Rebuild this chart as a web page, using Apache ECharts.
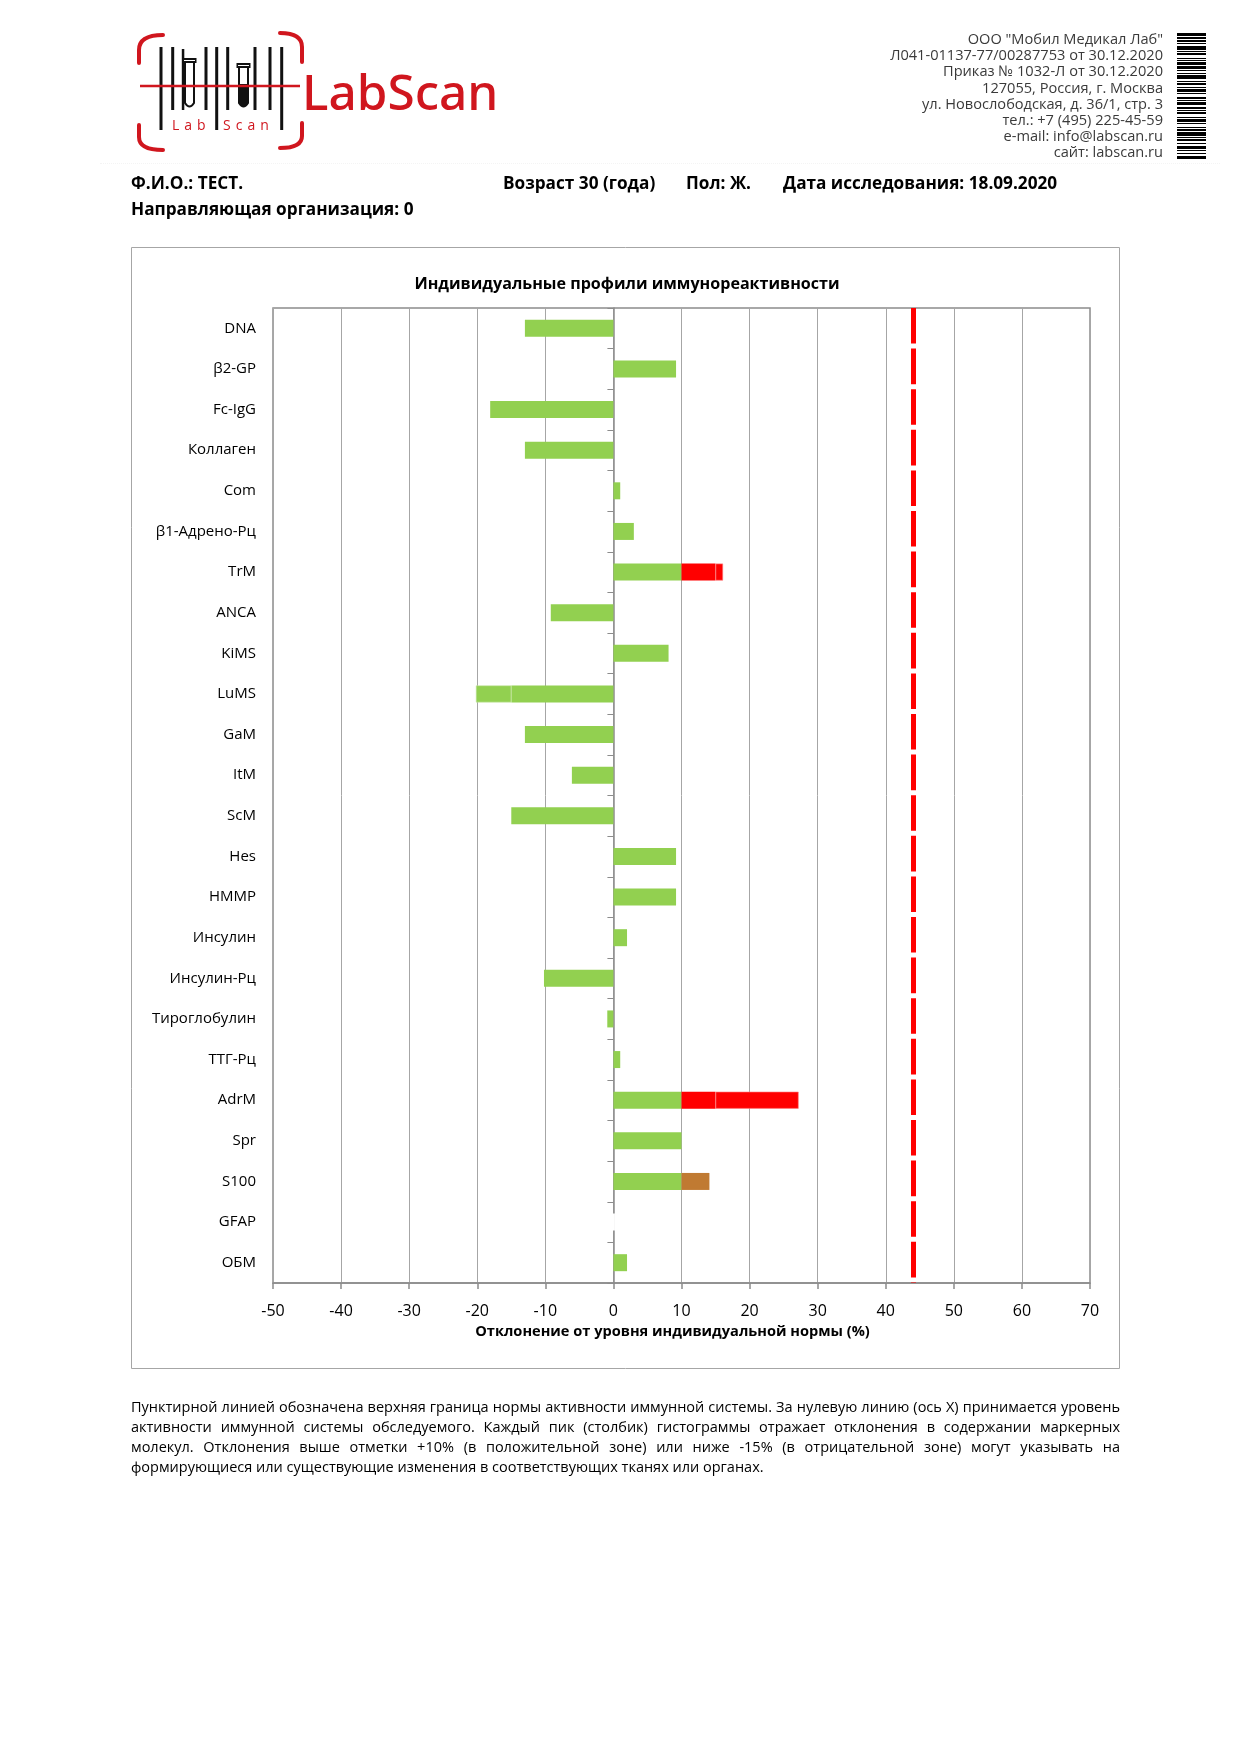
<!DOCTYPE html>
<html>
<head>
<meta charset="utf-8">
<script src="https://cdn.jsdelivr.net/npm/echarts/dist/echarts.min.js"></script>
<style>
  html, body { margin: 0; padding: 0; background: #fff; }
  body { width: 1242px; height: 1756px; position: relative; overflow: hidden; font-family: "Open Sans", "Noto Sans", sans-serif; }
  #chart { position: absolute; left: 0; top: 0; width: 1242px; height: 1756px; }
  .hdr { position: absolute; font-weight: 700; font-size: 17.2px; line-height: 20px; color: #000; white-space: nowrap; }
  #addr { position: absolute; right: 79px; top: 30px; text-align: right; font-size: 14.6px; line-height: 16.2px; color: #3a3a3a; }
  #barcode { position: absolute; left: 1177px; top: 33px; width: 29px; }
  #barcode div { width: 29px; }
  #foot { position: absolute; left: 131px; top: 1397px; width: 989px; font-size: 14.5px; line-height: 20px; color: #000; }
  #foot div { text-align: justify; }
  #foot div.j { text-align-last: justify; }
  #sep { position: absolute; left: 100px; top: 163px; width: 1120px; border-top: 1px dotted #f4f4f4; }
</style>
</head>
<body>
<div id="chart"></div>

<svg style="position:absolute;left:0;top:0" width="520" height="170" viewBox="0 0 520 170">
  <g fill="none" stroke="#D0161E" stroke-width="4" stroke-linecap="round">
    <path d="M163 35 Q139 35 139 50 L139 63"/>
    <path d="M139 125 L139 137 Q139 150 163 150"/>
    <path d="M280 33 Q302 33 302 47 L302 62"/>
    <path d="M302 123 L302 136 Q302 148 280 148"/>
  </g>
  <g fill="#111">
    <rect x="159.5" y="47" width="3" height="83"/>
    <rect x="171.2" y="47" width="3" height="63"/>
    <rect x="181.8" y="49" width="2.5" height="61"/>
    <rect x="204.5" y="47" width="3" height="63"/>
    <rect x="215.2" y="47" width="3" height="83"/>
    <rect x="226.2" y="47" width="3" height="63"/>
    <rect x="253.5" y="47" width="3" height="63"/>
    <rect x="268.5" y="47" width="3" height="63"/>
    <rect x="280.2" y="47" width="3" height="83"/>
  </g>
  <g fill="none" stroke="#111" stroke-width="2">
    <rect x="183.5" y="59" width="12" height="3" fill="#fff"/>
    <path d="M185 62 L185 103 Q189.5 110 194 103 L194 62"/>
    <rect x="237.5" y="64" width="12" height="3" fill="#fff"/>
    <path d="M239 67 L239 103 Q243.5 110 248 103 L248 67"/>
  </g>
  <path d="M239 84 L248 84 L248 103 Q243.5 110 239 103 Z" fill="#111"/>
  <line x1="140" y1="86" x2="300" y2="86" stroke="#D0161E" stroke-width="2.5"/>
  <text x="172" y="130" fill="#D0161E" font-family="Open Sans" font-size="14" letter-spacing="5">Lab</text>
  <text x="223" y="130" fill="#D0161E" font-family="Open Sans" font-size="14" letter-spacing="5">Scan</text>
  <text x="302" y="110" fill="#D0161E" font-family="Noto Sans" font-weight="500" font-size="49.5">LabScan</text>
</svg>

<div id="addr">
  <div>ООО "Мобил Медикал Лаб"</div>
  <div>Л041-01137-77/00287753 от 30.12.2020</div>
  <div>Приказ № 1032-Л от 30.12.2020</div>
  <div>127055, Россия, г. Москва</div>
  <div>ул. Новослободская, д. 36/1, стр. 3</div>
  <div>тел.: +7 (495) 225-45-59</div>
  <div>e-mail: info@labscan.ru</div>
  <div>сайт: labscan.ru</div>
</div>
<div id="barcode"></div>
<div id="sep"></div>

<div class="hdr" style="left:131px;top:173px;">Ф.И.О.: ТЕСТ.</div>
<div class="hdr" style="left:503px;top:173px;">Возраст 30 (года)</div>
<div class="hdr" style="left:686px;top:173px;">Пол: Ж.</div>
<div class="hdr" style="left:783px;top:173px;">Дата исследования: 18.09.2020</div>
<div class="hdr" style="left:131px;top:199px;">Направляющая организация: 0</div>

<div id="foot">
  <div class="j">Пунктирной линией обозначена верхняя граница нормы активности иммунной системы. За нулевую линию (ось X) принимается уровень</div>
  <div class="j">активности иммунной системы обследуемого. Каждый пик (столбик) гистограммы отражает отклонения в содержании маркерных</div>
  <div class="j">молекул. Отклонения выше отметки +10% (в положительной зоне) или ниже -15% (в отрицательной зоне) могут указывать на</div>
  <div>формирующиеся или существующие изменения в соответствующих тканях или органах.</div>
</div>

<script>
// ---- data ----
const categories = ['DNA', 'β2-GP', 'Fc-IgG', 'Коллаген', 'Com', 'β1-Адрено-Рц', 'TrM', 'ANCA', 'KiMS', 'LuMS', 'GaM', 'ItM', 'ScM', 'Hes', 'HMMP', 'Инсулин', 'Инсулин-Рц', 'Тироглобулин', 'ТТГ-Рц', 'AdrM', 'Spr', 'S100', 'GFAP', 'ОБМ'];
// part of each deviation within the normal band
const normalValues = [-13, 9.2, -18.1, -13, 1, 3, 10, -9.2, 8.1, -15, -13, -6.1, -15, 9.2, 9.2, 2, -10.2, -0.9, 1, 10, 10, 10, 0, 2];
// part below -15
const lowExtraValues = [null, null, null, null, null, null, null, null, null, -5.2, null, null, null, null, null, null, null, null, null, null, null, null, null, null];
// part between +10 and +15
const highValues = [null, null, null, null, null, null, 5, null, null, null, null, null, null, null, null, null, null, null, null, 5, null, null, null, null];
// part above +15
const highExtraValues = [null, null, null, null, null, null, 1.1, null, null, null, null, null, null, null, null, null, null, null, null, 12.2, null, null, null, null];
// moderate increase segment
const moderateValues = [null, null, null, null, null, null, null, null, null, null, null, null, null, null, null, null, null, null, null, null, null, 4.1, null, null];
const xMin = -50, xMax = 70, xStep = 10;
const normLimit = 44;
const barcodeStripes = [3,1,1,1,2,1,1,2,3,1,1,1,2,2,1,1,1,1,3,1,2,1,1,2,1,1,3,2,1,1,2,1,1,1,3,1,1,2,2,1,1,1,3,1,2,1,1,1,2,2,1,1,3,1,1,2,1,1,2,1,3,1,1,1,2,2,1,1,3,1,1,2,1,1,3];

// ---- barcode decoration ----
(function () {
  const bc = document.getElementById('barcode');
  let total = 0;
  barcodeStripes.forEach(h => { total += h; });
  const scale = 127 / total;
  barcodeStripes.forEach((h, i) => {
    const d = document.createElement('div');
    d.style.height = (h * scale) + 'px';
    d.style.background = i % 2 === 0 ? '#000' : '#fff';
    bc.appendChild(d);
  });
})();

// ---- chart ----
const chart = echarts.init(document.getElementById('chart'), null, { renderer: 'canvas' });
const GREEN = '#92D050', RED = '#FF0000', BROWN = '#C07A32';
const FONT = '"Open Sans", "Noto Sans", sans-serif';

const normalData = normalValues.map((v, i) => {
  if (categories[i] === 'GFAP') {
    return { value: v, itemStyle: { color: '#fff', borderColor: '#fff', borderWidth: 3 } };
  }
  return v;
});

const option = {
  animation: false,
  backgroundColor: 'transparent',
  textStyle: { fontFamily: FONT },
  title: {
    text: 'Индивидуальные профили иммунореактивности',
    left: 622, top: 271, textAlign: 'center',
    textStyle: { fontFamily: FONT, fontSize: 16.1, fontWeight: 'bold', color: '#000' }
  },
  graphic: [{
    type: 'rect', silent: true, z: -10,
    shape: { x: 131.5, y: 247.5, width: 988, height: 1121 },
    style: { fill: 'none', stroke: '#a6a6a6', lineWidth: 1 }
  }],
  grid: {
    left: 273, right: 152, top: 308, bottom: 473,
    show: true, borderColor: '#8c8c8c', borderWidth: 1.5, backgroundColor: 'transparent'
  },
  xAxis: {
    type: 'value', min: xMin, max: xMax, interval: xStep,
    axisLine: { show: true, onZero: false, lineStyle: { color: '#8c8c8c', width: 1.5 } },
    axisTick: { show: true, length: 6, lineStyle: { color: '#8c8c8c', width: 1.5 } },
    axisLabel: { fontSize: 16, color: '#000', margin: 20, fontFamily: FONT },
    splitLine: { show: true, lineStyle: { color: '#a6a6a6', width: 1 } },
    name: 'Отклонение от уровня индивидуальной нормы (%)',
    nameLocation: 'middle', nameGap: 41,
    nameTextStyle: { fontSize: 14.6, fontWeight: 'bold', color: '#000', fontFamily: FONT, padding: [0, 18, 0, 0] }
  },
  yAxis: {
    type: 'category', data: categories, inverse: true,
    axisLine: { show: true, lineStyle: { color: '#8c8c8c', width: 1.5 } },
    axisTick: { show: true, length: 6, lineStyle: { color: '#8c8c8c', width: 1 } },
    axisLabel: { fontSize: 15, color: '#000', margin: 17, fontFamily: FONT },
    splitLine: { show: false }
  },
  series: [
    {
      name: 'Норма', type: 'bar', stack: 'dev', barWidth: 17,
      data: normalData, itemStyle: { color: GREEN },
      markLine: {
        silent: true, symbol: 'none', label: { show: false },
        lineStyle: { color: RED, width: 5, type: [35.6, 5], cap: 'butt' },
        data: [{ xAxis: normLimit }]
      }
    },
    { name: 'Ниже -15', type: 'bar', stack: 'dev', barWidth: 17, data: lowExtraValues,
      itemStyle: { color: GREEN, borderColor: '#c8e8a8', borderWidth: 0.6 } },
    { name: '+10…+15', type: 'bar', stack: 'dev', barWidth: 17, data: highValues, itemStyle: { color: RED } },
    { name: '> +15', type: 'bar', stack: 'dev', barWidth: 17, data: highExtraValues,
      itemStyle: { color: RED, borderColor: '#ff8080', borderWidth: 0.6 } },
    { name: 'Умеренно', type: 'bar', stack: 'dev', barWidth: 17, data: moderateValues, itemStyle: { color: BROWN } }
  ]
};
chart.setOption(option);
</script>
</body>
</html>
